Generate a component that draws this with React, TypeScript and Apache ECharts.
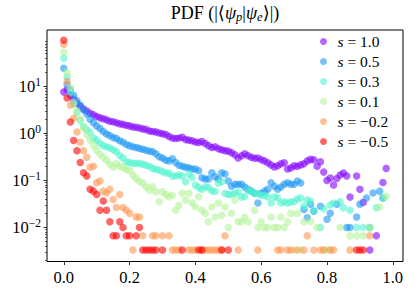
import React, { useEffect, useRef } from 'react';
import * as echarts from 'echarts';

// legend labels (value of s) and rainbow colours
const sLabels = ['1.0', '0.5', '0.3', '0.1', '−0.2', '−0.5'];
const colors = ['#8000ff', '#1996f3', '#4df3ce', '#b2f396', '#ff964f', '#ff0000'];

// PDF values [|<psi_p|psi_e>|, density]
const s1p0: [number, number][] = [
  [0, 7.6], [0.01, 8.5], [0.02, 6.5], [0.03, 5.3], [0.04, 4.4], [0.05, 3.8], [0.06, 3.3], [0.07, 3.0], [0.08, 2.7], [0.09, 2.5],
  [0.10, 2.3], [0.11, 2.15], [0.12, 2.05], [0.13, 1.95], [0.14, 1.82], [0.15, 1.77], [0.16, 1.68], [0.17, 1.6], [0.18, 1.56], [0.19, 1.49],
  [0.20, 1.45], [0.21, 1.38], [0.22, 1.35], [0.23, 1.31], [0.24, 1.25], [0.25, 1.22], [0.26, 1.13], [0.27, 1.1], [0.28, 1.08], [0.29, 1.02],
  [0.30, 0.98], [0.31, 0.95], [0.32, 0.86], [0.33, 0.8], [0.34, 0.78], [0.35, 0.8], [0.36, 0.83], [0.37, 0.74], [0.38, 0.72], [0.39, 0.7],
  [0.40, 0.66], [0.41, 0.64], [0.42, 0.67], [0.43, 0.61], [0.44, 0.55], [0.45, 0.5], [0.46, 0.52], [0.47, 0.47], [0.48, 0.45], [0.49, 0.43],
  [0.50, 0.42], [0.51, 0.39], [0.52, 0.35], [0.53, 0.3], [0.54, 0.335], [0.55, 0.37], [0.56, 0.335], [0.57, 0.31], [0.58, 0.295], [0.59, 0.3],
  [0.60, 0.275], [0.61, 0.26], [0.62, 0.237], [0.63, 0.214], [0.64, 0.194], [0.65, 0.204], [0.66, 0.225], [0.67, 0.237], [0.68, 0.175], [0.69, 0.184],
  [0.70, 0.204], [0.71, 0.2], [0.72, 0.214], [0.73, 0.225], [0.74, 0.26], [0.75, 0.28], [0.76, 0.275], [0.77, 0.2], [0.78, 0.25], [0.79, 0.15],
  [0.80, 0.1], [0.81, 0.112], [0.82, 0.08], [0.83, 0.11], [0.84, 0.13], [0.85, 0.144], [0.86, 0.124], [0.87, 0.044], [0.89, 0.124], [0.90, 0.065],
  [0.91, 0.034], [0.93, 0.0033], [0.95, 0.0066], [0.97, 0.09], [0.98, 0.18],
];

const s0p5: [number, number][] = [
  [0, 24.5], [0.01, 11], [0.02, 8.5], [0.03, 6.5], [0.04, 5.0], [0.05, 4.0], [0.06, 3.2], [0.07, 2.6], [0.08, 2.0], [0.09, 1.7],
  [0.10, 1.45], [0.11, 1.28], [0.12, 1.1], [0.13, 0.97], [0.14, 0.9], [0.15, 0.82], [0.16, 0.78], [0.17, 0.7], [0.18, 0.65], [0.19, 0.58],
  [0.20, 0.55], [0.21, 0.52], [0.22, 0.5], [0.23, 0.48], [0.24, 0.46], [0.25, 0.44], [0.26, 0.42], [0.27, 0.41], [0.28, 0.37], [0.29, 0.32],
  [0.30, 0.3], [0.31, 0.27], [0.32, 0.26], [0.33, 0.29], [0.34, 0.24], [0.35, 0.21], [0.36, 0.2], [0.37, 0.19], [0.38, 0.185], [0.39, 0.175],
  [0.40, 0.175], [0.41, 0.16], [0.42, 0.114], [0.43, 0.107], [0.44, 0.107], [0.45, 0.146], [0.46, 0.12], [0.47, 0.107], [0.48, 0.146], [0.49, 0.137],
  [0.50, 0.097], [0.51, 0.075], [0.52, 0.083], [0.53, 0.083], [0.54, 0.083], [0.55, 0.072], [0.56, 0.065], [0.57, 0.059], [0.58, 0.053], [0.59, 0.033],
  [0.60, 0.053], [0.61, 0.059], [0.62, 0.065], [0.63, 0.089], [0.64, 0.075], [0.65, 0.065], [0.66, 0.072], [0.67, 0.083], [0.68, 0.089], [0.69, 0.083],
  [0.70, 0.083], [0.71, 0.097], [0.72, 0.088], [0.73, 0.024], [0.74, 0.016], [0.75, 0.031], [0.76, 0.022], [0.78, 0.028], [0.80, 0.0148], [0.81, 0.02],
  [0.83, 0.031], [0.86, 0.0099], [0.87, 0.0099], [0.89, 0.0165], [0.90, 0.031], [0.92, 0.042], [0.93, 0.0099], [0.94, 0.054], [0.96, 0.059], [0.97, 0.042],
];

const s0p3: [number, number][] = [
  [0, 40], [0.01, 16], [0.02, 7.5], [0.03, 4.2], [0.04, 2.8], [0.05, 1.9], [0.06, 1.4], [0.07, 1.2], [0.08, 1.05], [0.09, 0.8],
  [0.10, 0.72], [0.11, 0.62], [0.12, 0.55], [0.13, 0.52], [0.14, 0.49], [0.15, 0.45], [0.16, 0.41], [0.17, 0.34], [0.18, 0.3], [0.19, 0.25],
  [0.20, 0.24], [0.21, 0.23], [0.22, 0.23], [0.23, 0.23], [0.24, 0.22], [0.25, 0.21], [0.26, 0.2], [0.27, 0.18], [0.28, 0.17], [0.29, 0.166],
  [0.30, 0.155], [0.31, 0.143], [0.32, 0.143], [0.33, 0.124], [0.34, 0.124], [0.35, 0.13], [0.36, 0.124], [0.37, 0.093], [0.38, 0.137], [0.39, 0.115],
  [0.40, 0.08], [0.41, 0.07], [0.42, 0.065], [0.43, 0.073], [0.44, 0.07], [0.45, 0.06], [0.46, 0.058], [0.47, 0.087], [0.48, 0.093], [0.49, 0.053],
  [0.50, 0.05], [0.51, 0.05], [0.52, 0.053], [0.53, 0.057], [0.54, 0.044], [0.55, 0.045], [0.56, 0.062], [0.57, 0.058], [0.58, 0.053], [0.59, 0.052],
  [0.60, 0.048], [0.61, 0.048], [0.62, 0.045], [0.63, 0.033], [0.64, 0.045], [0.65, 0.042], [0.66, 0.033], [0.67, 0.035], [0.68, 0.033], [0.69, 0.035],
  [0.70, 0.035], [0.71, 0.04], [0.72, 0.042], [0.73, 0.028], [0.74, 0.038], [0.75, 0.036], [0.76, 0.023], [0.78, 0.0099], [0.79, 0.025], [0.81, 0.03],
  [0.82, 0.033], [0.84, 0.035], [0.85, 0.026], [0.87, 0.023], [0.89, 0.0099], [0.91, 0.0099], [0.93, 0.0099], [0.95, 0.026], [0.97, 0.042],
];

const s0p1: [number, number][] = [
  [0, 54], [0.01, 20], [0.02, 9.4], [0.03, 4.5], [0.04, 3.0], [0.05, 2.0], [0.06, 1.3], [0.07, 0.95], [0.08, 0.72], [0.09, 0.55],
  [0.10, 0.44], [0.11, 0.36], [0.12, 0.31], [0.13, 0.27], [0.14, 0.22], [0.15, 0.19], [0.16, 0.23], [0.17, 0.2], [0.18, 0.19], [0.19, 0.17],
  [0.20, 0.165], [0.21, 0.13], [0.22, 0.11], [0.23, 0.095], [0.24, 0.088], [0.25, 0.073], [0.26, 0.062], [0.27, 0.073], [0.28, 0.057], [0.29, 0.035],
  [0.30, 0.057], [0.31, 0.05], [0.32, 0.045], [0.33, 0.048], [0.34, 0.023], [0.35, 0.029], [0.36, 0.053], [0.37, 0.038], [0.38, 0.053], [0.39, 0.033],
  [0.40, 0.027], [0.41, 0.045], [0.42, 0.023], [0.43, 0.02], [0.44, 0.0132], [0.45, 0.027], [0.46, 0.0165], [0.47, 0.033], [0.48, 0.018], [0.49, 0.027],
  [0.50, 0.0099], [0.51, 0.02], [0.52, 0.038], [0.53, 0.0132], [0.54, 0.0132], [0.55, 0.0165], [0.56, 0.0132], [0.58, 0.023], [0.59, 0.0099], [0.60, 0.0132],
  [0.61, 0.0099], [0.62, 0.0099], [0.63, 0.0165], [0.64, 0.0099], [0.65, 0.0099], [0.66, 0.0165], [0.67, 0.0099], [0.68, 0.0132], [0.69, 0.0198], [0.70, 0.0033],
  [0.71, 0.0198], [0.72, 0.0033], [0.73, 0.0132], [0.75, 0.0132], [0.77, 0.0099], [0.79, 0.0033], [0.80, 0.0033], [0.81, 0.0033], [0.84, 0.0099], [0.87, 0.0066],
  [0.89, 0.0066], [0.91, 0.0066], [0.93, 0.0099], [0.96, 0.027], [0.98, 0.046],
];

const sm0p2: [number, number][] = [
  [0, 80], [0.01, 12.8], [0.02, 4.0], [0.03, 2.1], [0.04, 1.07], [0.05, 0.65], [0.06, 0.43], [0.07, 0.31], [0.08, 0.19], [0.09, 0.2],
  [0.10, 0.089], [0.11, 0.097], [0.12, 0.059], [0.13, 0.054], [0.14, 0.065], [0.15, 0.039], [0.16, 0.0264], [0.17, 0.05], [0.18, 0.0264], [0.19, 0.0231],
  [0.20, 0.0198], [0.21, 0.0033], [0.22, 0.0165], [0.23, 0.0165], [0.24, 0.0066], [0.27, 0.0066], [0.28, 0.0066], [0.30, 0.0066], [0.32, 0.0066], [0.33, 0.0033],
  [0.34, 0.0033], [0.35, 0.0033], [0.38, 0.0033], [0.39, 0.0033], [0.40, 0.0033], [0.42, 0.0033], [0.43, 0.0033], [0.44, 0.0033], [0.45, 0.0033], [0.46, 0.0033],
  [0.47, 0.0033], [0.48, 0.0033], [0.49, 0.0066], [0.53, 0.0033], [0.59, 0.0033], [0.65, 0.0033], [0.66, 0.0033], [0.68, 0.0033], [0.69, 0.0033], [0.71, 0.0033],
  [0.73, 0.0033], [0.74, 0.0066], [0.76, 0.0033], [0.78, 0.0033], [0.79, 0.0033], [0.81, 0.0033], [0.82, 0.0033], [0.87, 0.0033], [0.93, 0.0066],
];

const sm0p5: [number, number][] = [
  [0, 97], [0.01, 5.7], [0.02, 1.75], [0.03, 0.71], [0.04, 0.43], [0.05, 0.24], [0.06, 0.146], [0.07, 0.124], [0.08, 0.065], [0.09, 0.059],
  [0.10, 0.05], [0.11, 0.0231], [0.12, 0.0363], [0.13, 0.0231], [0.14, 0.0132], [0.15, 0.0066], [0.16, 0.0066], [0.17, 0.0132], [0.18, 0.0099], [0.19, 0.0066],
  [0.20, 0.0066], [0.22, 0.0066], [0.23, 0.0099], [0.24, 0.0033], [0.25, 0.0033], [0.26, 0.0033], [0.27, 0.0033], [0.28, 0.0033], [0.30, 0.0033], [0.36, 0.0033],
  [0.41, 0.0033], [0.42, 0.0033], [0.48, 0.0033], [0.50, 0.0033], [0.89, 0.0033], [0.90, 0.0033], [0.91, 0.0033],
];

const seriesData = [s1p0, s0p5, s0p3, s0p1, sm0p2, sm0p5];

// axes
const xTicks = [0, 0.2, 0.4, 0.6, 0.8, 1.0];
const yTicks = [0.01, 0.1, 1, 10];
const yMinorTicks = [
  0.002, 0.003, 0.004, 0.005, 0.006, 0.007, 0.008, 0.009,
  0.02, 0.03, 0.04, 0.05, 0.06, 0.07, 0.08, 0.09,
  0.2, 0.3, 0.4, 0.5, 0.6, 0.7, 0.8, 0.9,
  2, 3, 4, 5, 6, 7, 8, 9,
  20, 30, 40, 50, 60, 70, 80, 90,
];
const X_MIN = -0.051;
const X_MAX = 1.031;
const Y_MIN = 0.00187;
const Y_MAX = 160;

const FONT = "'Liberation Serif', 'DejaVu Serif', serif";

export default function App() {
  const ref = useRef<HTMLDivElement>(null);
  useEffect(() => {
    const chart = echarts.init(ref.current!, null, { renderer: 'svg' });
    const tickStyle = { color: '#000', width: 0.8 };
    chart.setOption({
      animation: false,
      backgroundColor: '#fff',
      grid: { left: 47, right: 13, top: 30, bottom: 31.5, show: true, borderColor: '#000', borderWidth: 1, backgroundColor: 'transparent' },
      graphic: [
        {
          type: 'text',
          x: 225,
          y: 13,
          style: {
            text: 'PDF (|⟨{g|ψ}{sub|p}|{g|ψ}{sub|e}⟩|)',
            align: 'center',
            verticalAlign: 'middle',
            fontFamily: FONT,
            fontSize: 18,
            fill: '#000',
            rich: {
              g: { fontFamily: FONT, fontSize: 18, fontStyle: 'italic', fill: '#000' },
              sub: { fontFamily: FONT, fontSize: 12.5, fontStyle: 'italic', fill: '#000', padding: [7, 0, 0, 0] },
            },
          },
        },
      ],
      legend: {
        orient: 'vertical',
        left: 320,
        top: 33.5,
        padding: 0,
        itemWidth: 18,
        itemHeight: 7,
        itemGap: 4,
        icon: 'circle',
        data: sLabels,
        itemStyle: { opacity: 0.6 },
        formatter: (name: string) => `{i|s}{n| = ${name}}`,
        textStyle: {
          color: '#000',
          rich: {
            i: { fontFamily: FONT, fontStyle: 'italic', fontSize: 15.5, lineHeight: 15, color: '#000' },
            n: { fontFamily: FONT, fontSize: 15.5, lineHeight: 15, color: '#000' },
          },
        },
      },
      xAxis: {
        type: 'value',
        min: X_MIN,
        max: X_MAX,
        axisLine: { show: false, onZero: false },
        splitLine: { show: false },
        axisTick: { show: true, inside: false, length: 3.5, lineStyle: tickStyle, customValues: xTicks },
        axisLabel: {
          customValues: xTicks,
          margin: 7,
          formatter: (v: number) => v.toFixed(1),
          fontFamily: FONT,
          fontSize: 16.5,
          color: '#000',
        },
      },
      yAxis: [
        {
          type: 'log',
          logBase: 10,
          min: Y_MIN,
          max: Y_MAX,
          position: 'left',
          axisLine: { show: false, onZero: false },
          splitLine: { show: false },
          minorTick: { show: false },
          axisTick: { show: true, inside: false, length: 3.5, lineStyle: tickStyle, customValues: yTicks },
          axisLabel: {
            customValues: yTicks,
            margin: 6,
            formatter: (v: number) => {
              const e = Math.round(Math.log10(v));
              return `{b|10}{s|${e < 0 ? '−' + -e : e}}`;
            },
            rich: {
              b: { fontFamily: FONT, fontSize: 16.5, color: '#000' },
              s: { fontFamily: FONT, fontSize: 11.5, color: '#000', padding: [0, 0, 9, 0] },
            },
          },
        },
        {
          type: 'log',
          logBase: 10,
          min: Y_MIN,
          max: Y_MAX,
          position: 'left',
          offset: 0,
          axisLine: { show: false, onZero: false },
          splitLine: { show: false },
          axisLabel: { show: false },
          axisTick: { show: true, inside: false, length: 2, lineStyle: { color: '#000', width: 0.6 }, customValues: yMinorTicks },
        },
      ],
      series: seriesData.map((d, i) => ({
        type: 'scatter',
        name: sLabels[i],
        data: d,
        yAxisIndex: 0,
        symbol: 'circle',
        symbolSize: 7.5,
        itemStyle: { color: colors[i], opacity: 0.6 },
        emphasis: { disabled: true },
        silent: true,
      })),
    });
    return () => chart.dispose();
  }, []);
  return <div ref={ref} style={{ position: 'fixed', left: 0, top: 0, width: 416, height: 293 }} />;
}
